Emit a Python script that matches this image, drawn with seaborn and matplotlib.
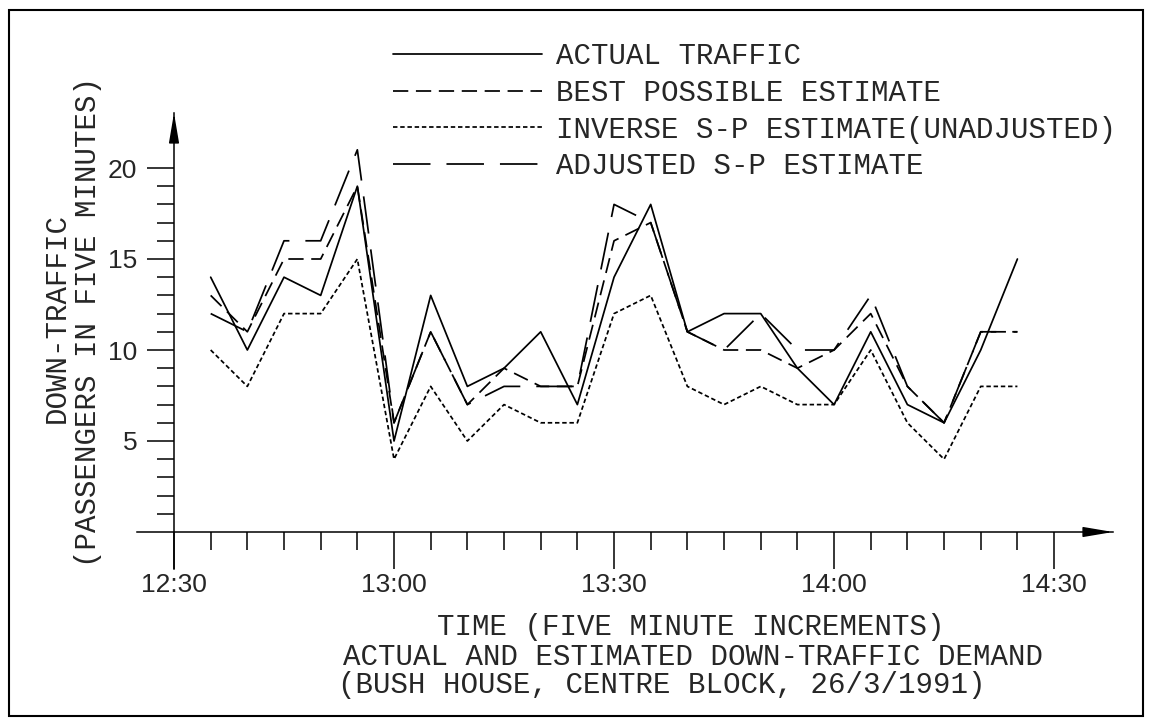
import matplotlib
matplotlib.use("Agg")
import matplotlib.pyplot as plt
import seaborn as sns
import pandas as pd
from matplotlib.patches import Rectangle
from matplotlib.ticker import FixedLocator

# ---------------- data ----------------
times = ["12:35", "12:40", "12:45", "12:50", "12:55", "13:00", "13:05", "13:10",
         "13:15", "13:20", "13:25", "13:30", "13:35", "13:40", "13:45", "13:50",
         "13:55", "14:00", "14:05", "14:10", "14:15", "14:20", "14:25"]
actual_traffic = [14, 10, 14, 13, 19, 5, 13, 8, 9, 11, 7, 14, 18, 11, 12, 12, 9, 7, 11, 7, 6, 10, 15]
best_possible = [13, 11, 15, 15, 19, 6, 11, 7, 9, 8, 8, 16, 17, 11, 10, 10, 9, 10, 12, 8, 6, 11, 11]
inverse_sp = [10, 8, 12, 12, 15, 4, 8, 5, 7, 6, 6, 12, 13, 8, 7, 8, 7, 7, 10, 6, 4, 8, 8]
adjusted_sp = [12, 11, 16, 16, 21, 6, 11, 7, 8, 8, 8, 18, 17, 11, 10, 12, 10, 10, 13, 8, 6, 11, 11]

series_names = ["ACTUAL TRAFFIC", "BEST POSSIBLE ESTIMATE",
                "INVERSE S-P ESTIMATE(UNADJUSTED)", "ADJUSTED S-P ESTIMATE"]
x_major_labels = ["12:30", "13:00", "13:30", "14:00", "14:30"]
y_major = [5, 10, 15, 20]


def to_min(t):
    h, m = t.split(":")
    return int(h) * 60 + int(m)


xs = [to_min(t) for t in times]
frames = []
for name, vals in zip(series_names, [actual_traffic, best_possible, inverse_sp, adjusted_sp]):
    frames.append(pd.DataFrame({"t": xs, "v": vals, "series": name}))
df = pd.concat(frames, ignore_index=True)

# ---------------- style ----------------
sns.set_style("white")
plt.rcParams["font.family"] = ["Liberation Mono", "DejaVu Sans Mono", "DejaVu Sans"]
plt.rcParams["lines.scale_dashes"] = False

W, H = 1152, 725
fig = plt.figure(figsize=(W / 100, H / 100), dpi=100)

# pixel geometry of the axes
px_left, px_right, px_top, px_bottom = 137, 1113, 113, 569
ax = fig.add_axes([px_left / W, 1 - px_bottom / H, (px_right - px_left) / W, (px_bottom - px_top) / H])

x0 = to_min("12:30")
ppm = 36.67 / 5.0  # pixels per minute
ax.set_xlim(x0 - (174 - px_left) / ppm, x0 + (px_right - 174) / ppm)
ppu = 18.2  # pixels per unit
ax.set_ylim(-(px_bottom - 532) / ppu, (532 - px_top) / ppu)

dash_map = {
    series_names[0]: "",
    series_names[1]: (11, 5.5),
    series_names[2]: (3.2, 2.0),
    series_names[3]: (27, 11.5),
}
sns.lineplot(data=df, x="t", y="v", hue="series", style="series",
             hue_order=series_names, style_order=series_names,
             palette=["black"] * 4, dashes=dash_map, linewidth=1.25,
             ax=ax, legend=True)

handles, labels = ax.get_legend_handles_labels()
ax.get_legend().remove()
for h in handles:
    h.set_linewidth(1.25)

FS = 21
fig.legend(handles, labels, loc="upper left",
           bbox_to_anchor=(393 / W, 1 - 42 / H), frameon=False,
           borderpad=0, borderaxespad=0, handlelength=5.1,
           handletextpad=0.5, labelspacing=0.30, fontsize=FS)

# axes / spines
for s in ["top", "right"]:
    ax.spines[s].set_visible(False)
ax.spines["left"].set_position(("data", x0))
ax.spines["bottom"].set_position(("data", 0))
for s in ["left", "bottom"]:
    ax.spines[s].set_linewidth(1.1)
    ax.spines[s].set_color("black")

major_x = [to_min(t) for t in x_major_labels]
ax.set_xticks(major_x)
ax.set_xticklabels(x_major_labels)
ax.xaxis.set_minor_locator(FixedLocator([m for m in xs if m not in major_x]))
ax.set_yticks(y_major)
ax.set_yticklabels([str(v) for v in y_major])
ax.yaxis.set_minor_locator(FixedLocator([v for v in range(1, 20) if v % 5]))

tick_font = ["Liberation Sans", "DejaVu Sans"]
ax.tick_params(axis="x", which="both", bottom=True, top=False, color="black")
ax.tick_params(axis="y", which="both", left=True, right=False, color="black")
ax.tick_params(axis="x", which="major", length=26.6, width=1.1, direction="out", pad=3, labelsize=19)
ax.tick_params(axis="x", which="minor", length=13, width=1.1, direction="out")
ax.tick_params(axis="y", which="major", length=19.4, width=1.1, direction="out", pad=7, labelsize=19)
ax.tick_params(axis="y", which="minor", length=12.5, width=1.1, direction="out")
for lab in ax.get_xticklabels() + ax.get_yticklabels():
    lab.set_family(tick_font)
ax.set_xlabel("")
ax.set_ylabel("")

# arrowheads
xl = ax.get_xlim()
yl = ax.get_ylim()
ax.annotate("", xy=(xl[1], 0), xytext=(xl[1] - 4, 0),
            arrowprops=dict(arrowstyle="-|>,head_length=1.3,head_width=0.22", color="black",
                            lw=1.1, mutation_scale=14, shrinkA=0, shrinkB=0),
            annotation_clip=False)
ax.annotate("", xy=(x0, yl[1]), xytext=(x0, yl[1] - 0.5),
            arrowprops=dict(arrowstyle="-|>,head_length=1.3,head_width=0.22", color="black",
                            lw=1.1, mutation_scale=14, shrinkA=0, shrinkB=0),
            annotation_clip=False)


def ftext(xp, yp, s, **kw):
    fig.text(xp / W, 1 - yp / H, s, ha="center", va="center", fontsize=FS, **kw)


ftext(691, 627, "TIME (FIVE MINUTE INCREMENTS)")
ftext(693, 657, "ACTUAL AND ESTIMATED DOWN-TRAFFIC DEMAND")
ftext(662, 685, "(BUSH HOUSE, CENTRE BLOCK, 26/3/1991)")
ftext(57, 318, "DOWN-TRAFFIC", rotation=90)
ftext(88, 322, "(PASSENGERS IN FIVE MINUTES)", rotation=90)

fig.add_artist(Rectangle((9 / W, 1 - 716 / H), (1143 - 9) / W, (716 - 10) / H,
                         transform=fig.transFigure, fill=False, lw=1.5, ec="black"))

fig.savefig("out.png", dpi=100)
